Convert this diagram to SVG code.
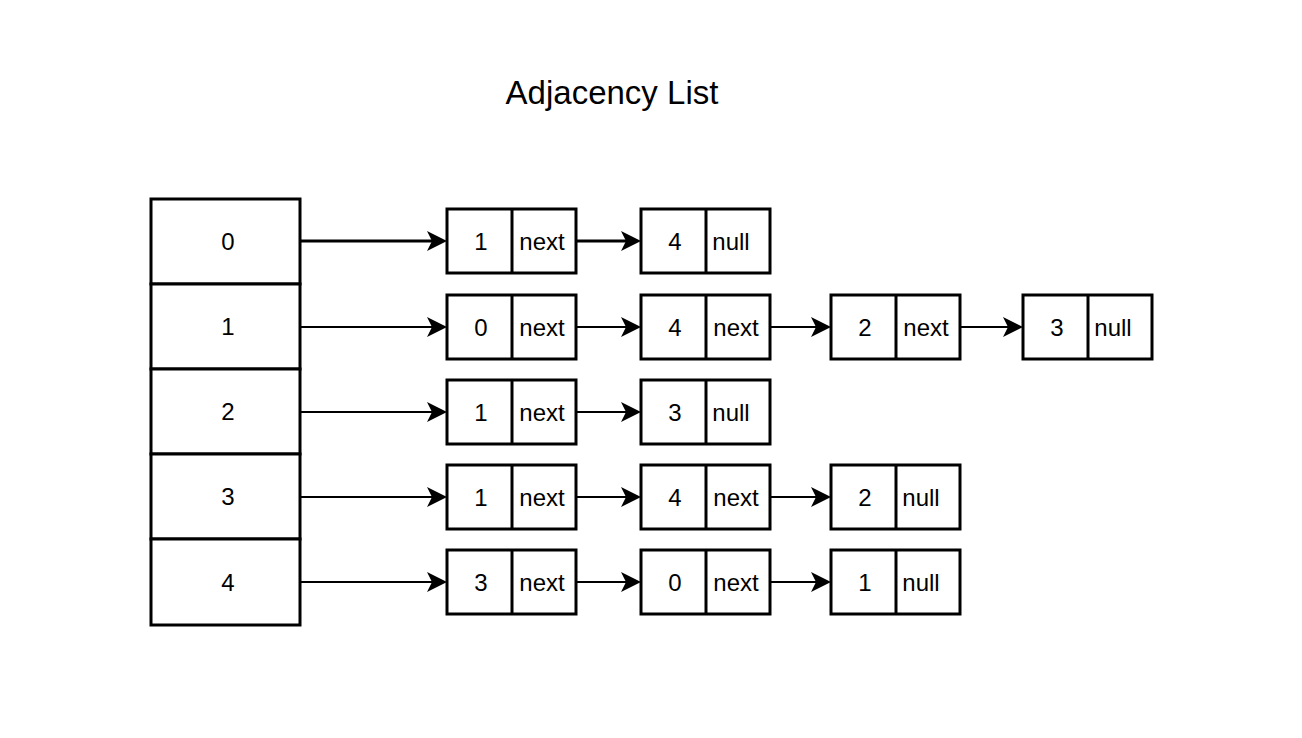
<svg xmlns="http://www.w3.org/2000/svg" width="1302" height="738" viewBox="0 0 1302 738">
<style>
.box{fill:#fff;stroke:#000;stroke-width:3}
.div{stroke:#000;stroke-width:3}
.t{font-family:"Liberation Sans",Arial,sans-serif;font-size:24px;fill:#000;text-anchor:middle}
.title{font-family:"Liberation Sans",Arial,sans-serif;font-size:33px;fill:#000;text-anchor:middle}
.c{stroke:#000;stroke-width:2;fill:none;marker-end:url(#ah)}
.c.thick{stroke-width:3}
</style>
<defs>
<marker id="ah" markerUnits="userSpaceOnUse" viewBox="0 0 20 20" refX="15" refY="10" markerWidth="20" markerHeight="20" orient="auto">
<path d="M0,0 L20,10 L0,20 L5,10 Z" fill="#000"/>
</marker>
</defs>
<rect width="1302" height="738" fill="#fff"/>
<text class="title" x="612" y="104">Adjacency List</text>

<g id="array">
<g id="cell0"><rect class="box" x="151" y="199" width="149" height="85"/><text class="t" x="228" y="250">0</text></g>
<g id="cell1"><rect class="box" x="151" y="284" width="149" height="85"/><text class="t" x="228" y="335">1</text></g>
<g id="cell2"><rect class="box" x="151" y="369" width="149" height="85"/><text class="t" x="228" y="420">2</text></g>
<g id="cell3"><rect class="box" x="151" y="454" width="149" height="85"/><text class="t" x="228" y="505">3</text></g>
<g id="cell4"><rect class="box" x="151" y="539" width="149" height="86"/><text class="t" x="228" y="591">4</text></g>
</g>

<g id="connectors">
<line class="c thick" x1="300" y1="241" x2="442" y2="241"/>
<line class="c thick" x1="576" y1="241" x2="636" y2="241"/>

<line class="c" x1="300" y1="327" x2="442" y2="327"/>
<line class="c" x1="576" y1="327" x2="636" y2="327"/>
<line class="c" x1="770" y1="327" x2="826" y2="327"/>
<line class="c" x1="960" y1="327" x2="1018" y2="327"/>

<line class="c" x1="300" y1="412" x2="442" y2="412"/>
<line class="c" x1="576" y1="412" x2="636" y2="412"/>

<line class="c" x1="300" y1="497" x2="442" y2="497"/>
<line class="c" x1="576" y1="497" x2="636" y2="497"/>
<line class="c" x1="770" y1="497" x2="826" y2="497"/>

<line class="c" x1="300" y1="582" x2="442" y2="582"/>
<line class="c" x1="576" y1="582" x2="636" y2="582"/>
<line class="c" x1="770" y1="582" x2="826" y2="582"/>
</g>

<g id="n0a"><rect class="box" x="447" y="209" width="129" height="64"/><line class="div" x1="512" y1="209" x2="512" y2="273"/><text class="t" x="481" y="250">1</text><text class="t" x="542" y="250">next</text></g>
<g id="n0b"><rect class="box" x="641" y="209" width="129" height="64"/><line class="div" x1="706" y1="209" x2="706" y2="273"/><text class="t" x="675" y="250">4</text><text class="t" x="731" y="250">null</text></g>

<g id="n1a"><rect class="box" x="447" y="295" width="129" height="64"/><line class="div" x1="512" y1="295" x2="512" y2="359"/><text class="t" x="481" y="336">0</text><text class="t" x="542" y="336">next</text></g>
<g id="n1b"><rect class="box" x="641" y="295" width="129" height="64"/><line class="div" x1="706" y1="295" x2="706" y2="359"/><text class="t" x="675" y="336">4</text><text class="t" x="736" y="336">next</text></g>
<g id="n1c"><rect class="box" x="831" y="295" width="129" height="64"/><line class="div" x1="896" y1="295" x2="896" y2="359"/><text class="t" x="865" y="336">2</text><text class="t" x="926" y="336">next</text></g>
<g id="n1d"><rect class="box" x="1023" y="295" width="129" height="64"/><line class="div" x1="1088" y1="295" x2="1088" y2="359"/><text class="t" x="1057" y="336">3</text><text class="t" x="1113" y="336">null</text></g>

<g id="n2a"><rect class="box" x="447" y="380" width="129" height="64"/><line class="div" x1="512" y1="380" x2="512" y2="444"/><text class="t" x="481" y="421">1</text><text class="t" x="542" y="421">next</text></g>
<g id="n2b"><rect class="box" x="641" y="380" width="129" height="64"/><line class="div" x1="706" y1="380" x2="706" y2="444"/><text class="t" x="675" y="421">3</text><text class="t" x="731" y="421">null</text></g>

<g id="n3a"><rect class="box" x="447" y="465" width="129" height="64"/><line class="div" x1="512" y1="465" x2="512" y2="529"/><text class="t" x="481" y="506">1</text><text class="t" x="542" y="506">next</text></g>
<g id="n3b"><rect class="box" x="641" y="465" width="129" height="64"/><line class="div" x1="706" y1="465" x2="706" y2="529"/><text class="t" x="675" y="506">4</text><text class="t" x="736" y="506">next</text></g>
<g id="n3c"><rect class="box" x="831" y="465" width="129" height="64"/><line class="div" x1="896" y1="465" x2="896" y2="529"/><text class="t" x="865" y="506">2</text><text class="t" x="921" y="506">null</text></g>

<g id="n4a"><rect class="box" x="447" y="550" width="129" height="64"/><line class="div" x1="512" y1="550" x2="512" y2="614"/><text class="t" x="481" y="591">3</text><text class="t" x="542" y="591">next</text></g>
<g id="n4b"><rect class="box" x="641" y="550" width="129" height="64"/><line class="div" x1="706" y1="550" x2="706" y2="614"/><text class="t" x="675" y="591">0</text><text class="t" x="736" y="591">next</text></g>
<g id="n4c"><rect class="box" x="831" y="550" width="129" height="64"/><line class="div" x1="896" y1="550" x2="896" y2="614"/><text class="t" x="865" y="591">1</text><text class="t" x="921" y="591">null</text></g>
</svg>
